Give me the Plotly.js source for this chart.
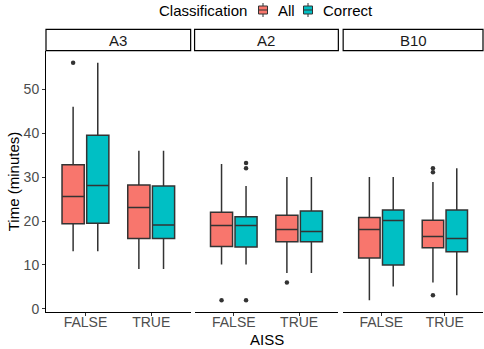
<!DOCTYPE html>
<html>
<head>
<meta charset="utf-8">
<script src="https://cdn.plot.ly/plotly-3.0.1.min.js"></script>
<style>html,body{margin:0;padding:0;background:#fff;}#chart{width:484px;height:349px;}</style>
</head>
<body>
<div id="chart"></div>
<script>
// Facets and x categories
const facets = ['A3', 'A2', 'B10'];
const aiss = ['FALSE', 'TRUE'];
const groups = ['All', 'Correct'];
// Order of each array: A3-FALSE, A3-TRUE, A2-FALSE, A2-TRUE, B10-FALSE, B10-TRUE
const allLower  = [13.1, 9.1, 10.1, 8.2, 2.0, 6.0];
const allQ1     = [19.4, 16.0, 14.2, 15.3, 11.6, 13.9];
const allMedian = [25.6, 23.1, 19.0, 18.1, 18.1, 16.5];
const allQ3     = [32.8, 28.2, 22.0, 21.3, 20.8, 20.2];
const allUpper  = [46.0, 36.0, 33.0, 30.0, 30.0, 28.9];
const allOutliers = [[56], [], [2], [6], [], [32, 31.1, 3.1]];

const correctLower  = [13.1, 9.1, 10.1, 8.2, 5.1, 3.1];
const correctQ1     = [19.5, 16.0, 14.1, 15.3, 10.0, 13.0];
const correctMedian = [28.1, 19.1, 19.0, 17.6, 20.1, 16.0];
const correctQ3     = [39.5, 28.0, 21.0, 22.3, 22.5, 22.5];
const correctUpper  = [56.0, 36.0, 28.0, 30.0, 30.0, 32.0];
const correctOutliers = [[], [], [33.2, 32.0, 2.0], [], [], []];

const colors = {All: '#F8766D', Correct: '#00BFC4'};
const stats = {
  All: {lo: allLower, q1: allQ1, med: allMedian, q3: allQ3, hi: allUpper, out: allOutliers},
  Correct: {lo: correctLower, q1: correctQ1, med: correctMedian, q3: correctQ3, hi: correctUpper, out: correctOutliers}
};
const dodge = {All: -0.1875, Correct: 0.1875};
const boxW = 0.3375;
const axisIds = ['x', 'x2', 'x3'];
const lineCol = '#333333';

const traces = [];
facets.forEach((f, fi) => {
  groups.forEach(g => {
    const s = stats[g];
    const idx = aiss.map((_, ai) => fi * aiss.length + ai);
    traces.push({
      type: 'box',
      name: g,
      showlegend: false,
      xaxis: axisIds[fi], yaxis: 'y',
      x: aiss.map((_, ai) => ai + 1 + dodge[g]),
      q1: idx.map(i => s.q1[i]),
      median: idx.map(i => s.med[i]),
      q3: idx.map(i => s.q3[i]),
      lowerfence: idx.map(i => s.lo[i]),
      upperfence: idx.map(i => s.hi[i]),
      width: boxW,
      whiskerwidth: 0,
      fillcolor: colors[g],
      line: {color: lineCol, width: 1.5},
      hoverinfo: 'skip'
    });
    const ox = [], oy = [];
    idx.forEach((i, ai) => s.out[i].forEach(v => { ox.push(ai + 1 + dodge[g]); oy.push(v); }));
    if (ox.length) {
      traces.push({
        type: 'scatter', mode: 'markers', showlegend: false,
        xaxis: axisIds[fi], yaxis: 'y',
        x: ox, y: oy,
        marker: {color: lineCol, size: 4.5},
        hoverinfo: 'skip'
      });
    }
  });
});

// layout geometry (pixels -> paper)
const W = 484, H = 349, mL = 46, mR = 1, mT = 51, mB = 37;
const pw = W - mL - mR, ph = H - mT - mB;
const px2x = px => (px - mL) / pw;
const py2y = py => 1 + (mT - py) / ph;

const domains = [[0, 0.331], [0.340, 0.669], [0.680, 1.0]];
const layout = {
  width: W, height: H,
  margin: {l: mL, r: mR, t: mT, b: mB},
  paper_bgcolor: '#ffffff', plot_bgcolor: '#ffffff',
  font: {family: 'Liberation Sans, Arial, sans-serif', color: '#000'},
  boxmode: 'overlay',
  showlegend: false,
  yaxis: {
    range: [-0.7, 58.7], tickvals: [0, 10, 20, 30, 40, 50],
    showgrid: false, zeroline: false,
    showline: true, linecolor: '#000', linewidth: 1,
    ticks: 'outside', ticklen: 3, tickcolor: '#333', tickwidth: 1,
    tickfont: {size: 14, color: '#4D4D4D'},
    title: {text: 'Time (minutes)', font: {size: 15, color: '#000'}, standoff: 0}
  },
  shapes: [], annotations: []
};
facets.forEach((f, fi) => {
  const key = fi === 0 ? 'xaxis' : 'xaxis' + (fi + 1);
  layout[key] = {
    domain: domains[fi], anchor: 'y',
    range: [0.4, 2.6], tickvals: aiss.map((_, ai) => ai + 1), ticktext: aiss,
    showgrid: false, zeroline: false,
    showline: true, linecolor: '#000', linewidth: 1,
    ticks: 'outside', ticklen: 3, tickcolor: '#333', tickwidth: 1,
    ticklabelstandoff: -6,
    tickfont: {size: 14, color: '#4D4D4D'}
  };
  const dref = (fi === 0 ? 'x' : 'x' + (fi + 1)) + ' domain';
  layout.shapes.push({
    type: 'rect', xref: dref, yref: 'paper', x0: 0, x1: 1, y0: py2y(50.7), y1: py2y(29.3),
    line: {color: '#000', width: 1.2}, fillcolor: '#ffffff', layer: 'above'
  });
  layout.annotations.push({
    text: f, xref: dref, yref: 'paper', x: 0.5, y: py2y(40),
    xanchor: 'center', yanchor: 'middle', showarrow: false,
    font: {size: 15, color: '#1A1A1A'}
  });
});
// x axis title
layout.annotations.push({
  text: 'AISS', xref: 'paper', yref: 'paper', x: px2x(266.5), y: py2y(339),
  xanchor: 'center', yanchor: 'middle', showarrow: false,
  font: {size: 15, color: '#000'}
});
// legend (ggplot style, top)
const legY = 10;
layout.annotations.push({
  text: 'Classification', xref: 'paper', yref: 'paper', x: px2x(157), y: py2y(legY),
  xanchor: 'left', yanchor: 'middle', showarrow: false,
  font: {size: 15, color: '#000'}
});
const legKeyX = [263, 308];
groups.forEach((g, gi) => {
  const cx = legKeyX[gi];
  layout.shapes.push({
    type: 'line', xref: 'paper', yref: 'paper',
    x0: px2x(cx), x1: px2x(cx), y0: py2y(legY - 7), y1: py2y(legY + 7),
    line: {color: lineCol, width: 1}
  });
  layout.shapes.push({
    type: 'rect', xref: 'paper', yref: 'paper',
    x0: px2x(cx - 4.5), x1: px2x(cx + 4.5), y0: py2y(legY - 4), y1: py2y(legY + 4),
    line: {color: lineCol, width: 1}, fillcolor: colors[g]
  });
  layout.shapes.push({
    type: 'line', xref: 'paper', yref: 'paper',
    x0: px2x(cx - 4.5), x1: px2x(cx + 4.5), y0: py2y(legY), y1: py2y(legY),
    line: {color: lineCol, width: 1}
  });
  layout.annotations.push({
    text: g, xref: 'paper', yref: 'paper', x: px2x(cx + 13), y: py2y(legY),
    xanchor: 'left', yanchor: 'middle', showarrow: false,
    font: {size: 15, color: '#000'}
  });
});

Plotly.newPlot('chart', traces, layout, {displayModeBar: false, staticPlot: true});
</script>
</body>
</html>
